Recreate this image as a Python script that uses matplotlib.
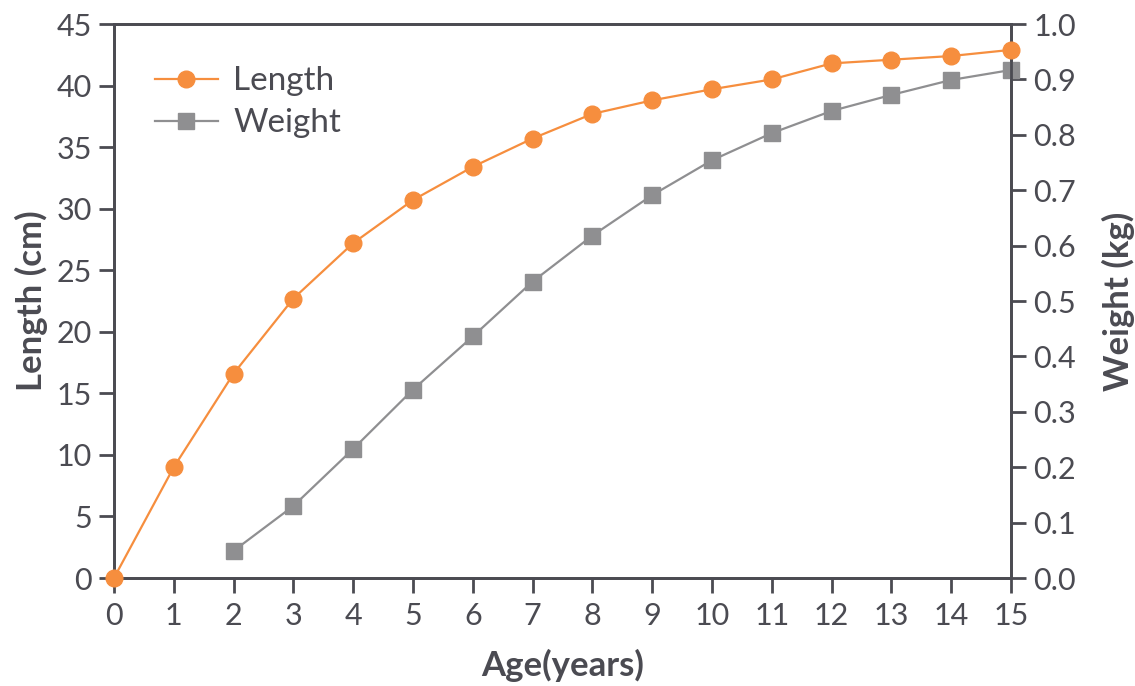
import matplotlib.pyplot as plt

plt.rcParams['font.family'] = ['Lato', 'DejaVu Sans']

ages = list(range(16))
length_cm = [0, 9.0, 16.6, 22.7, 27.2, 30.7, 33.4, 35.7, 37.7, 38.8, 39.7, 40.5, 41.8, 42.1, 42.4, 42.9]
weight_ages = list(range(2, 16))
weight_kg = [0.049, 0.130, 0.233, 0.340, 0.436, 0.535, 0.618, 0.691, 0.754, 0.803, 0.843, 0.872, 0.899, 0.917]

orange = '#f68e3e'
grey = '#8f8f91'
dark = '#4b4b52'

fig = plt.figure(figsize=(11.35, 6.86), dpi=100)
ax = fig.add_axes([0.1004, 0.1574, 0.7903, 0.8076])
ax2 = ax.twinx()

l1, = ax.plot(ages, length_cm, color=orange, lw=1.6, marker='o', ms=12, label='Length', clip_on=False, zorder=3)
l2, = ax2.plot(weight_ages, weight_kg, color=grey, lw=1.6, marker='s', ms=12, label='Weight', clip_on=False, zorder=3)

ax.set_xlim(0, 15)
ax.set_ylim(0, 45)
ax2.set_ylim(0, 1.0)
ax.set_xticks(range(16))
ax.set_yticks(range(0, 46, 5))
ax2.set_yticks([i / 10 for i in range(11)])
ax2.set_yticklabels([f'{i / 10:.1f}' for i in range(11)])

for a in (ax, ax2):
    for s in a.spines.values():
        s.set_color(dark)
        s.set_linewidth(2)
    a.tick_params(colors=dark, labelcolor=dark, labelsize=22, width=2, length=11, direction='out')
ax.tick_params(axis='x', pad=6)
ax.tick_params(axis='y', pad=5)
ax2.tick_params(axis='y', pad=5)

ax.set_xlabel('Age(years)', fontsize=25, fontweight='bold', color=dark, labelpad=14)
ax.set_ylabel('Length (cm)', fontsize=25, fontweight='bold', color=dark, labelpad=6)
ax2.set_ylabel('Weight (kg)', fontsize=25, fontweight='bold', color=dark, rotation=90, labelpad=19)

ax2.set_zorder(1)
ax.set_zorder(2)
ax.patch.set_visible(False)

leg = ax.legend(handles=[l1, l2], loc='upper left', bbox_to_anchor=(0.012, 0.978), frameon=False,
                fontsize=24, handlelength=1.9, labelspacing=0.36, handletextpad=0.45)
for t in leg.get_texts():
    t.set_color(dark)

fig.savefig('out.png', dpi=100)
